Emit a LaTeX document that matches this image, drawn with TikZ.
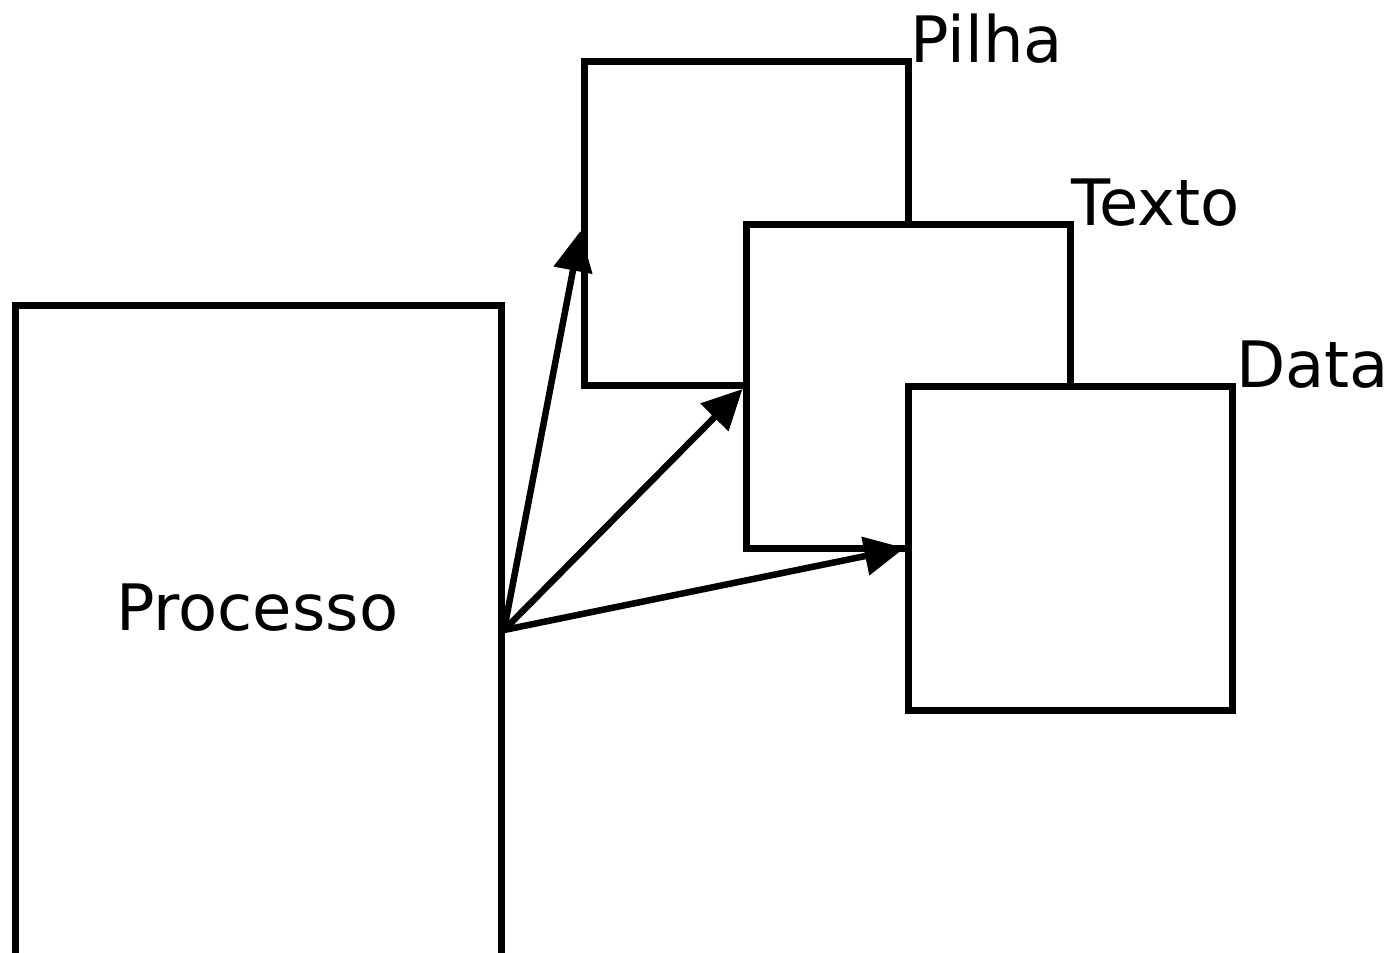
\documentclass[tikz,border=0pt]{standalone}
\usepackage{fontspec}
\setmainfont{DejaVu Sans}
\usetikzlibrary{arrows.meta}
\begin{document}
\begin{tikzpicture}[x=1pt,y=-1pt,
  box/.style={draw=black,fill=white,line width=7pt,inner sep=0pt,minimum width=324pt,minimum height=324pt},
  lbl/.style={anchor=base west,inner sep=0pt,font=\fontsize{64}{76}\selectfont},
  arr/.style={line width=6.5pt,-{Triangle[length=40pt,width=38pt]}}]
\useasboundingbox (0,0) rectangle (1398,953);
\begin{scope}
\clip (0,0) rectangle (1398,953);
\node[draw=black,line width=7pt,inner sep=0pt,minimum width=486pt,minimum height=680pt] (proc) at (258,645) {};
\end{scope}
\node[lbl] (proclbl) at (116,630) {Processo};
\node[box] (pilha) at (746,223) {};
\node[box] (texto) at (908,386) {};
\node[box] (data) at (1070,548) {};
\node[lbl] (pilhalbl) at (910,62) {Pilha};
\node[lbl] (textolbl) at (1071,225) {Texto};
\node[lbl] (datalbl) at (1236,387) {Data};
\coordinate (src) at (504,630);
\draw[arr] (src) -- ([yshift=-8pt]pilha.west);
\draw[arr] (src) -- ([yshift=-3pt]texto.west);
\draw[arr] (src) -- (data.west);
\end{tikzpicture}
\end{document}
